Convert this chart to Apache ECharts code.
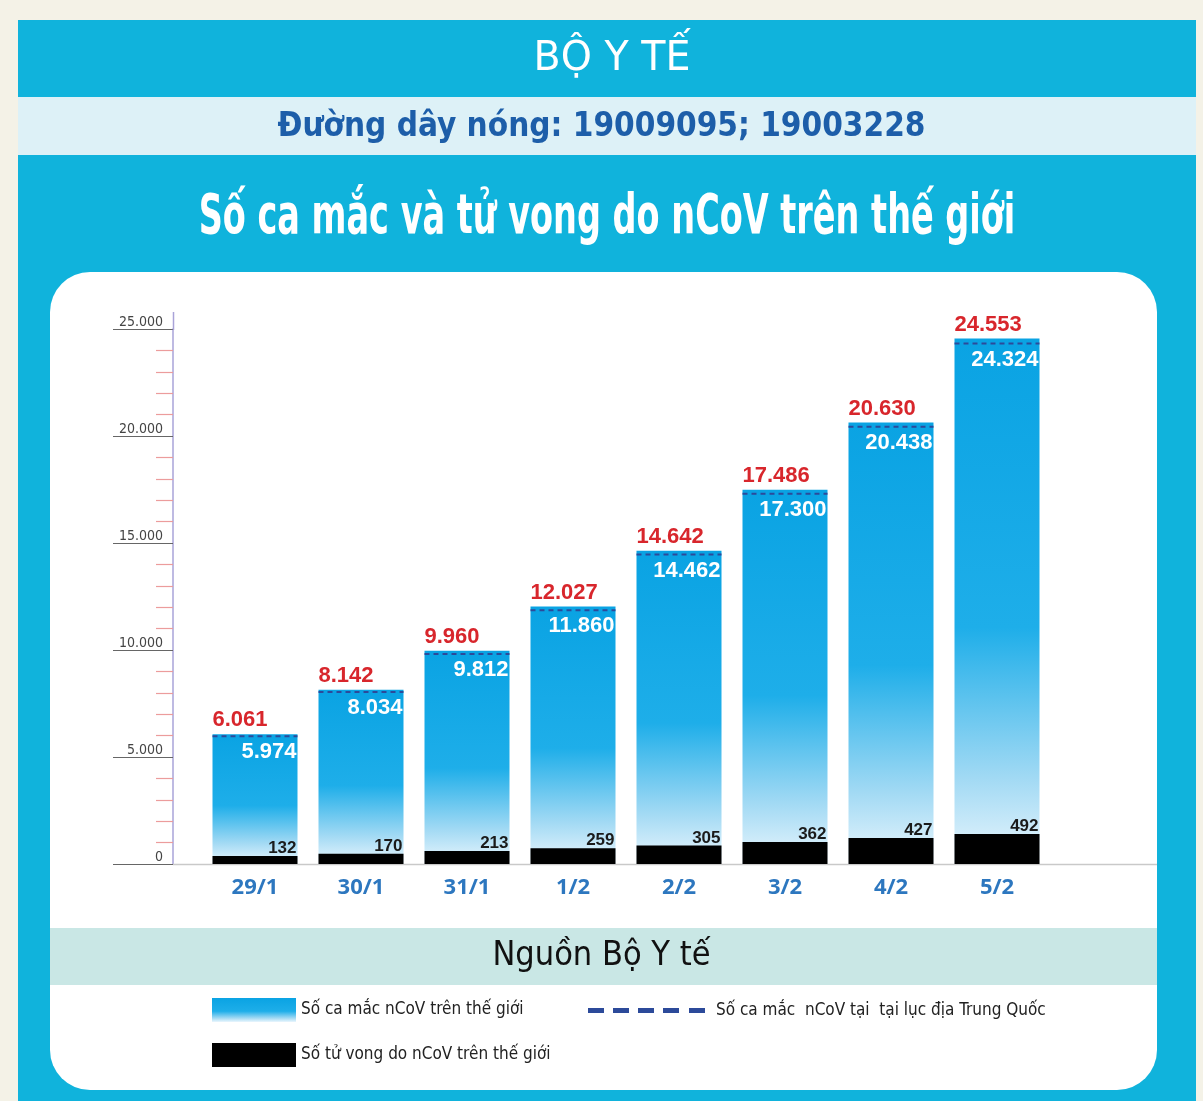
<!DOCTYPE html>
<html>
<head>
    <meta charset="utf-8"/>
    <title>Số ca mắc và tử vong do nCoV trên thế giới</title>
    <script src="https://cdn.jsdelivr.net/npm/echarts@6/dist/echarts.min.js"></script>
    <style>
        html, body { margin: 0; padding: 0; background: #f4f2e7; }
        #chart { width: 1203px; height: 1101px; }
    </style>
</head>
<body>
<div id="chart"></div>
<script>
    // dữ liệu
    var days = ['29/1', '30/1', '31/1', '1/2', '2/2', '3/2', '4/2', '5/2'];
    var worldCases = [6061, 8142, 9960, 12027, 14642, 17486, 20630, 24553];
    var chinaCases = [5974, 8034, 9812, 11860, 14462, 17300, 20438, 24324];
    var worldDeaths = [132, 170, 213, 259, 305, 362, 427, 492];

    var NARROW = '"Liberation Sans Narrow", "DejaVu Sans Condensed", "Open Sans", sans-serif';
    var BOLD = '"Liberation Sans", Arial, sans-serif';

    function fmt(v) {
        return String(v).replace(/\B(?=(\d{3})+(?!\d))/g, '.');
    }

    var chinaData = [];
    for (var i = 0; i < days.length; i++) {
        chinaData.push([days[i], chinaCases[i]]);
    }

    var BAR_W = 85;
    var blueGrad = new echarts.graphic.LinearGradient(0, 0, 0, 1, [
        {offset: 0, color: '#0aa3e3'},
        {offset: 0.55, color: '#1eaee9'},
        {offset: 0.84, color: '#a3daf4'},
        {offset: 1, color: '#eaf6fd'}
    ]);

    var myChart = echarts.init(document.getElementById('chart'));
    var option = {
        backgroundColor: '#f4f2e7',
        animation: false,
        title: [{
            text: 'Đường dây nóng: 19009095; 19003228',
            left: 'center', top: 106,
            textStyle: {color: '#1d5ea9', fontSize: 33, fontWeight: 'bold', fontFamily: NARROW}
        }, {
            text: 'Nguồn Bộ Y tế',
            left: 'center', top: 934,
            textStyle: {color: '#111', fontSize: 34, fontWeight: 'normal', fontFamily: NARROW}
        }],
        graphic: [
            {type: 'rect', z: -10, shape: {x: 18, y: 20, width: 1178, height: 1090}, style: {fill: '#10b3dc'}},
            {type: 'rect', z: -9, shape: {x: 18, y: 97, width: 1178, height: 58}, style: {fill: '#ddf1f7'}},
            {type: 'rect', z: -9, shape: {x: 50, y: 272, width: 1107, height: 818, r: 40}, style: {fill: '#fff'}},
            {type: 'rect', z: -8, shape: {x: 50, y: 928, width: 1107, height: 57}, style: {fill: '#c9e7e5'}},
            {type: 'line', z: 1, shape: {x1: 173, y1: 864.5, x2: 1157, y2: 864.5}, style: {stroke: '#c9c9c9', lineWidth: 1.5}},
            {type: 'line', z: 1, shape: {x1: 173.5, y1: 312, x2: 173.5, y2: 330}, style: {stroke: '#a9a3d8', lineWidth: 1.5}},
            {
                type: 'text', z: 10, x: 612, y: 60, scaleX: 1.1,
                style: {
                    text: 'BỘ Y TẾ', align: 'center', verticalAlign: 'middle',
                    fill: '#fff', font: '40px ' + NARROW
                }
            },
            {
                type: 'text', z: 10, x: 607, y: 218, scaleX: 0.665,
                style: {
                    text: 'Số ca mắc và tử vong do nCoV trên thế giới', align: 'center', verticalAlign: 'middle',
                    fill: '#fff', font: 'bold 56px ' + NARROW,
                    shadowColor: 'rgba(0,0,0,0.45)', shadowBlur: 4, shadowOffsetX: 2, shadowOffsetY: 2
                }
            }
        ],
        legend: [{
            selectedMode: false,
            left: 212, top: 998, padding: 0,
            itemWidth: 84, itemHeight: 24, itemGap: 5,
            textStyle: {fontSize: 17, color: '#222', fontFamily: NARROW},
            data: [{name: 'Số ca mắc nCoV trên thế giới', icon: 'rect'}]
        }, {
            selectedMode: false,
            left: 588, top: 1002, padding: 0,
            itemWidth: 117, itemHeight: 5, itemGap: 5,
            textStyle: {fontSize: 17, color: '#222', fontFamily: NARROW, padding: [0, 0, 0, 6]},
            data: [{
                name: 'Số ca mắc  nCoV tại  tại lục địa Trung Quốc',
                icon: 'path://M0 0h16v5H0z M25 0h16v5H25z M50 0h16v5H50z M75 0h16v5H75z M101 0h16v5H101z',
                itemStyle: {color: '#2c4a9a'}
            }]
        }, {
            selectedMode: false,
            left: 212, top: 1043, padding: 0,
            itemWidth: 84, itemHeight: 24, itemGap: 5,
            textStyle: {fontSize: 17, color: '#222', fontFamily: NARROW},
            data: [{name: 'Số tử vong do nCoV trên thế giới', icon: 'rect'}]
        }],
        grid: {left: 202, right: 153, top: 329, bottom: 237},
        xAxis: {
            type: 'category',
            data: days,
            axisLine: {show: false},
            axisTick: {show: false},
            axisLabel: {
                margin: 13,
                color: '#2d77bf', fontSize: 22, fontWeight: 'bold', fontFamily: '"Open Sans", sans-serif'
            }
        },
        yAxis: [{
            type: 'value',
            min: 0, max: 25000, interval: 5000,
            offset: 29,
            axisLine: {show: true, lineStyle: {color: '#a9a3d8', width: 1.5}},
            axisTick: {show: true, length: 60, lineStyle: {color: '#666', width: 1}},
            minorTick: {show: true, splitNumber: 5, length: 17, lineStyle: {color: '#ec9c9c', width: 1.2}},
            splitLine: {show: false},
            axisLabel: {
                margin: 10, verticalAlign: 'bottom',
                color: '#444', fontSize: 14, fontFamily: NARROW,
                formatter: function (v) { return v === 0 ? '0' : fmt(v); }
            }
        }, {
            // trục ẩn cho số tử vong (cột đen được phóng to trong đồ họa gốc)
            type: 'value',
            min: 0, max: 8800,
            show: false,
            splitLine: {show: false}
        }],
        series: [{
            name: 'Số ca mắc nCoV trên thế giới',
            type: 'bar',
            data: worldCases,
            barWidth: BAR_W,
            barGap: '-100%',
            z: 2,
            itemStyle: {color: blueGrad},
            label: {
                show: true, position: 'top', align: 'left', offset: [-BAR_W / 2, 0], distance: 3,
                color: '#d8262c', fontSize: 22, fontWeight: 'bold', fontFamily: BOLD,
                formatter: function (p) { return fmt(p.value); }
            }
        }, {
            name: 'Số tử vong do nCoV trên thế giới',
            type: 'bar',
            yAxisIndex: 1,
            data: worldDeaths,
            barWidth: BAR_W,
            barGap: '-100%',
            z: 3,
            itemStyle: {color: '#000'},
            label: {
                show: true, position: 'top', align: 'right', offset: [BAR_W / 2 - 1, 2], distance: 1,
                color: '#1a1a1a', fontSize: 17, fontWeight: 'bold', fontFamily: BOLD,
                formatter: function (p) { return fmt(p.value); }
            }
        }, {
            name: 'Số ca mắc  nCoV tại  tại lục địa Trung Quốc',
            type: 'custom',
            data: chinaData,
            encode: {x: 0, y: 1},
            z: 4,
            itemStyle: {color: '#2c4a9a'},
            renderItem: function (params, api) {
                var p = api.coord([api.value(0), api.value(1)]);
                var half = BAR_W / 2;
                return {
                    type: 'group',
                    children: [{
                        type: 'line',
                        shape: {x1: p[0] - half, y1: p[1], x2: p[0] + half, y2: p[1]},
                        style: {stroke: '#2c4a9a', lineWidth: 2, lineDash: [5, 4]}
                    }, {
                        type: 'text',
                        style: {
                            text: fmt(api.value(1)),
                            x: p[0] + half - 1, y: p[1] + 5,
                            align: 'right', verticalAlign: 'top',
                            fill: '#fff', font: 'bold 22px ' + BOLD
                        }
                    }]
                };
            }
        }]
    };
    myChart.setOption(option);
</script>
</body>
</html>
